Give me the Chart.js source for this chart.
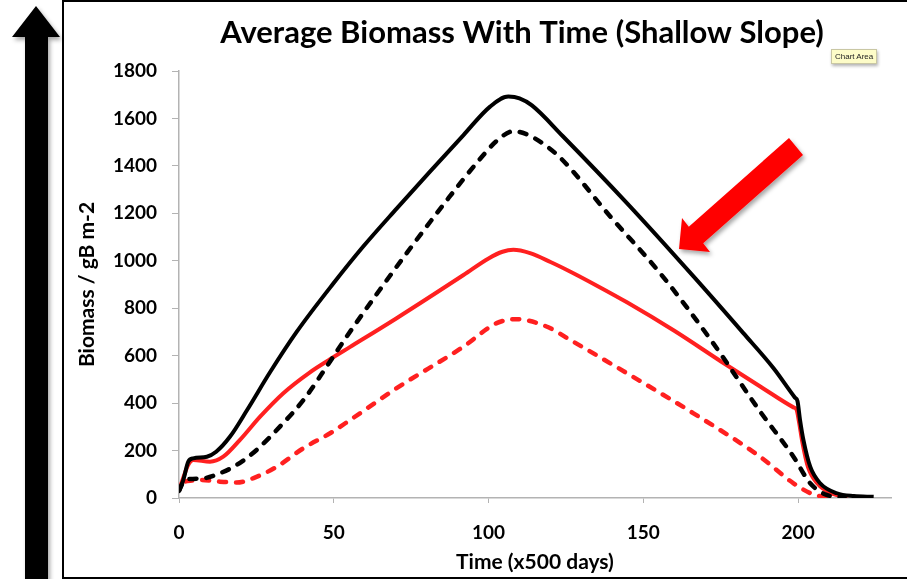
<!DOCTYPE html>
<html>
<head>
<meta charset="utf-8">
<script src="https://cdn.jsdelivr.net/npm/chart.js@4"></script>
<style>
  html, body { margin: 0; padding: 0; background: #fff; }
  #wrap { position: relative; width: 907px; height: 579px; overflow: hidden; }
  #frame { position: absolute; left: 62px; top: 0px; width: 860px; height: 575px; border: 2px solid #000; }
  #chart { position: absolute; left: 0; top: 0; }
  svg { position: absolute; left: 0; top: 0; }
  #tip {
    position: absolute; left: 831px; top: 49px; height: 13px; padding: 0 3px;
    background: #fdfcc8; border: 1px solid #c9c7a4; box-shadow: 1px 2px 3px rgba(0,0,0,0.3);
    font: 8px "Liberation Sans", sans-serif; color: #222; line-height: 13px; white-space: nowrap;
  }
</style>
</head>
<body>
<div id="wrap">
  <div id="frame"></div>
  <canvas id="chart" width="907" height="579"></canvas>
  <svg width="907" height="579">
    <defs>
      <filter id="sh" x="-20%" y="-20%" width="140%" height="140%">
        <feDropShadow dx="2" dy="3" stdDeviation="2" flood-color="#000" flood-opacity="0.35"/>
      </filter>
    </defs>
    <!-- big black arrow on the left -->
    <polygon points="36,6 60,37 48,37 48,580 25,580 25,37 12,37" fill="#000" filter="url(#sh)"/>
    <!-- red arrow pointing at the curves -->
    <polygon points="789,138 688.8,226.7 682,218 679,249 710,252 703.2,243.3 803,155" fill="#ff0000" filter="url(#sh)"/>
  </svg>
  <div id="tip">Chart Area</div>
</div>
<script>
// time (x500 days) and biomass (gB m-2)
const blackSolidT = [0, 1.4, 3, 4.6, 9, 12, 16.5, 22, 29.4, 38, 49.9, 59.5, 70.3, 81, 91.9, 100.5, 106.4, 110, 114, 124, 144.7, 166.2, 182.3, 192, 199, 199.8, 200.6, 201.7, 203.9, 207.1, 212.5, 218, 224.4];
const blackSolidV = [27, 76, 153, 167, 174, 195, 259, 371, 530, 700, 905, 1060, 1220, 1375, 1530, 1650, 1692, 1685, 1655, 1525, 1243, 934, 695, 548, 423, 408, 330, 245, 132, 62, 20, 8, 5];

const blackDashT = [0, 1.5, 3.6, 7.9, 13.2, 18.6, 25.1, 32.6, 40.2, 47.7, 54.2, 65, 75.7, 86.5, 97.3, 102.6, 108, 112, 118, 123.5, 139.3, 155.4, 171.6, 187.7, 198.5, 203.9, 209.2, 215];
const blackDashV = [30, 70, 80, 83, 104, 139, 203, 301, 413, 554, 681, 880, 1070, 1255, 1430, 1505, 1546, 1535, 1490, 1430, 1187, 948, 670, 365, 174, 62, 13, 3];

const redSolidT = [0, 1.5, 3, 4.6, 10, 14.3, 19.7, 26.2, 33.7, 42.3, 48.8, 55.3, 70.3, 91.9, 100, 104.5, 108, 113.4, 120, 126.3, 135, 144.7, 160, 176, 188, 198.5, 199.5, 200.3, 201.3, 203.2, 206.3, 211, 216];
const redSolidV = [30, 90, 140, 160, 153, 174, 245, 343, 442, 530, 585, 637, 758, 940, 1010, 1038, 1046, 1032, 995, 955, 895, 825, 705, 568, 468, 382, 372, 320, 240, 130, 60, 18, 4];

const redDashT = [2, 6.8, 13.2, 18.6, 23.9, 31.6, 40.2, 48.8, 55.3, 70.3, 91.9, 102.6, 109, 118.7, 126.3, 144.7, 166.2, 187.7, 198.5, 204, 208, 211];
const redDashV = [70, 76, 69, 65, 83, 132, 210, 273, 329, 463, 638, 737, 754, 723, 667, 526, 357, 174, 62, 20, 5, 0];

const xTicks = [0, 50, 100, 150, 200];
const chartTitle = 'Average Biomass With Time (Shallow Slope)';

function pts(t, v) {
  return t.map((x, i) => ({ x: x, y: v[i] }));
}

const RED = '#ff2020';
const AXIS = '#b3b3b3';
const FONT = 'Lato, "Open Sans", sans-serif';

function line(label, t, v, color, dashed) {
  return {
    label: label,
    data: pts(t, v),
    borderColor: color,
    borderWidth: dashed ? 4.5 : 4,
    borderDash: dashed ? [7, 10] : [],
    borderCapStyle: dashed ? 'round' : 'butt',
    borderJoinStyle: 'round',
    pointRadius: 0,
    fill: false,
    cubicInterpolationMode: 'monotone',
    showLine: true
  };
}

// the title sits off-centre in the original, so it is placed by hand
const titlePlugin = {
  id: 'pageTitle',
  afterDraw(c) {
    const ctx = c.ctx;
    ctx.save();
    ctx.font = 'bold 31px ' + FONT;
    ctx.fillStyle = '#000';
    ctx.textAlign = 'center';
    ctx.textBaseline = 'middle';
    ctx.fillText(chartTitle, 522, 33);
    ctx.restore();
  }
};

const chart = new Chart(document.getElementById('chart'), {
  type: 'scatter',
  data: {
    datasets: [
      line('Black solid', blackSolidT, blackSolidV, '#000', false),
      line('Black dashed', blackDashT, blackDashV, '#000', true),
      line('Red solid', redSolidT, redSolidV, RED, false),
      line('Red dashed', redDashT, redDashV, RED, true)
    ]
  },
  plugins: [titlePlugin],
  options: {
    responsive: false,
    animation: false,
    layout: { padding: { left: 64, right: 16, top: 71, bottom: 0 } },
    plugins: {
      legend: { display: false },
      tooltip: { enabled: false },
      title: { display: false }
    },
    scales: {
      x: {
        type: 'linear',
        min: 0,
        max: 230,
        afterBuildTicks: s => { s.ticks = xTicks.map(v => ({ value: v })); },
        afterFit: s => { s.height = 81; },
        grid: { drawOnChartArea: false, drawTicks: true, tickLength: 5, color: AXIS },
        border: { color: AXIS, width: 1.5 },
        ticks: { color: '#000', padding: 18, font: { family: FONT, size: 19, weight: 'bold' } },
        title: {
          display: true,
          text: 'Time (x500 days)',
          color: '#000',
          font: { family: FONT, size: 21, weight: 'bold' },
          padding: { top: 0, bottom: 4 }
        }
      },
      y: {
        min: 0,
        max: 1800,
        afterFit: s => { s.width = 115; },
        grid: { drawOnChartArea: false, drawTicks: true, tickLength: 7, color: AXIS },
        border: { color: AXIS, width: 1.5 },
        ticks: {
          stepSize: 200,
          color: '#000',
          padding: 15,
          font: { family: FONT, size: 19, weight: 'bold' },
          callback: v => String(v)
        },
        title: {
          display: true,
          text: 'Biomass / gB m-2',
          color: '#000',
          font: { family: FONT, size: 21, weight: 'bold' },
          padding: { top: 11, bottom: 0 }
        }
      }
    }
  }
});
</script>
</body>
</html>
